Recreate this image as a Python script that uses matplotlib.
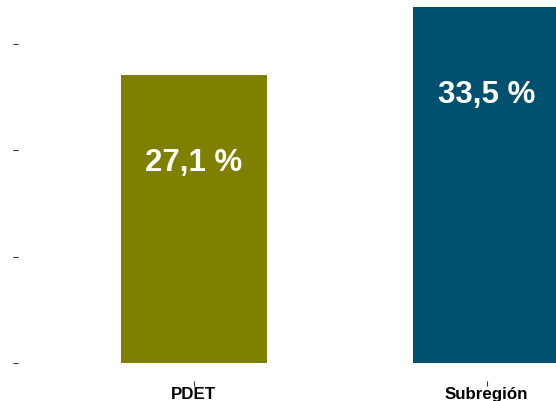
import matplotlib
matplotlib.use('Agg')
import matplotlib.pyplot as plt

categorias = ['PDET', 'Subregión']
valores = [27.1, 33.5]
etiquetas = ['27,1 %', '33,5 %']
colores = ['#808000', '#00516F']
y_ticks = [0, 10, 20, 30]

plt.rcParams['font.family'] = ['Liberation Sans', 'DejaVu Sans']

fig = plt.figure(figsize=(5.56, 4.02), dpi=100)
# el eje se extiende más allá del borde derecho (recortado como en la referencia)
ax = fig.add_axes([18 / 556, 0.0505, 1.159, 0.974])

x = list(range(1, len(categorias) + 1))
ax.bar(x, valores, width=0.5, color=colores)
for xi, v, t in zip(x, valores, etiquetas):
    ax.text(xi, v - 8.2, t, ha='center', va='center', color='white',
            fontsize=22.5, fontweight='bold')

ax.set_xlim(0.4, 2.6)
ax.set_ylim(-1.675, 35.175)
ax.set_xticks(x)
ax.set_xticklabels(categorias, fontsize=12.2, fontweight='bold', color='black')
ax.set_yticks(y_ticks)
ax.set_yticklabels([])
ax.tick_params(axis='both', length=3.5, width=0.8, color='#333333')
ax.tick_params(axis='x', pad=0)
for s in ax.spines.values():
    s.set_visible(False)

fig.savefig('out.png', dpi=100)
